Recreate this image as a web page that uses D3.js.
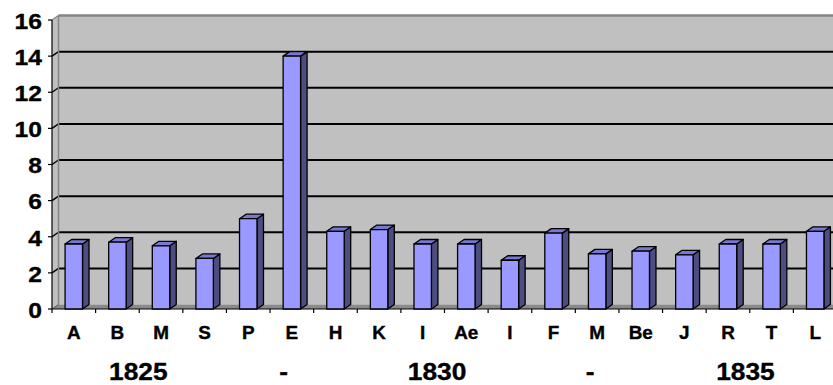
<!DOCTYPE html>
<html>
<head>
<meta charset="utf-8">
<script src="https://cdn.jsdelivr.net/npm/d3@7"></script>
<style>
  html, body { margin: 0; padding: 0; background: #ffffff; }
  svg { display: block; }
  text { font-family: "Liberation Sans", Arial, sans-serif; font-weight: bold; fill: #000; stroke: #000; stroke-width: 0.35px; }
</style>
</head>
<body>
<svg id="chart" width="833" height="385"></svg>
<script>
// Category labels along the x axis
const categories = ["A", "B", "M", "S", "P", "E", "H", "K", "I", "Ae", "I", "F", "M", "Be", "J", "R", "T", "L"];
// Column heights
const values = [3.6, 3.7, 3.5, 2.8, 5.0, 14.0, 4.3, 4.4, 3.6, 3.6, 2.7, 4.2, 3.05, 3.2, 3.0, 3.6, 3.6, 4.3];
// Y axis ticks
const yTicks = [0, 2, 4, 6, 8, 10, 12, 14, 16];
// Second row of axis labels and where they sit, in category units
const yearLabels = ["1825", "-", "1830", "-", "1835"];
const yearAt = [1.98, 5.31, 8.83, 12.34, 15.9];

const svg = d3.select("#chart");

// Layout of the front plane and the depth offset of the 3D box
const plotLeft = 52, plotRight = 837, plotTop = 20, plotBase = 309;
const dx = 6.5, dy = -4.5;

const x = d3.scaleBand().domain(d3.range(categories.length)).range([plotLeft, plotRight]).padding(0);
const y = d3.scaleLinear().domain([0, 16]).range([plotBase, plotTop]);
const xPos = d3.scaleLinear().domain([0, categories.length]).range([plotLeft, plotRight]);

const wallFill = "#c0c0c0", floorFill = "#8a8a8a", wallEdge = "#858585";

// Back wall
svg.append("rect")
  .attr("x", plotLeft + dx).attr("y", plotTop + dy)
  .attr("width", 900).attr("height", plotBase - plotTop)
  .attr("fill", wallFill);

// Left side wall
svg.append("polygon")
  .attr("points", [[plotLeft, plotTop], [plotLeft + dx, plotTop + dy], [plotLeft + dx, plotBase + dy], [plotLeft, plotBase]].join(" "))
  .attr("fill", wallFill);

// Gridlines on the back wall and across the side wall
const grid = svg.append("g");
yTicks.filter(v => v > 0 && v < 16).forEach(v => {
  grid.append("line")
    .attr("x1", plotLeft + dx).attr("x2", 900)
    .attr("y1", y(v) + dy).attr("y2", y(v) + dy)
    .attr("stroke", "#000").attr("stroke-width", 2);
  grid.append("line")
    .attr("x1", plotLeft).attr("x2", plotLeft + dx)
    .attr("y1", y(v)).attr("y2", y(v) + dy)
    .attr("stroke", "#000").attr("stroke-width", 1.5);
});

// Wall edges
svg.append("line")
  .attr("x1", plotLeft + dx).attr("x2", 900)
  .attr("y1", plotTop + dy).attr("y2", plotTop + dy)
  .attr("stroke", wallEdge).attr("stroke-width", 2.5);
svg.append("line")
  .attr("x1", plotLeft + dx).attr("x2", plotLeft + dx)
  .attr("y1", plotTop + dy).attr("y2", plotBase + dy)
  .attr("stroke", wallEdge).attr("stroke-width", 1.5);
svg.append("line")
  .attr("x1", plotLeft).attr("x2", plotLeft + dx)
  .attr("y1", plotTop).attr("y2", plotTop + dy)
  .attr("stroke", wallEdge).attr("stroke-width", 1.5);

// Floor
svg.append("polygon")
  .attr("points", [[plotLeft, plotBase], [plotLeft + dx, plotBase + dy], [900, plotBase + dy], [900, plotBase]].join(" "))
  .attr("fill", floorFill);
svg.append("line")
  .attr("x1", plotLeft).attr("x2", plotLeft + dx)
  .attr("y1", plotBase).attr("y2", plotBase + dy)
  .attr("stroke", "#555").attr("stroke-width", 1);

// Y axis
const yAxis = svg.append("g");
yAxis.append("line")
  .attr("x1", plotLeft).attr("x2", plotLeft)
  .attr("y1", plotTop).attr("y2", plotBase)
  .attr("stroke", "#000").attr("stroke-width", 1.2);
yAxis.selectAll("line.tick").data(yTicks).join("line")
  .attr("class", "tick")
  .attr("x1", plotLeft - 4).attr("x2", plotLeft)
  .attr("y1", d => y(d)).attr("y2", d => y(d))
  .attr("stroke", "#000").attr("stroke-width", 1.2);
yAxis.selectAll("text").data(yTicks).join("text")
  .attr("text-anchor", "end")
  .attr("font-size", 22)
  .attr("transform", d => `translate(42,${y(d) + 8.8}) scale(1.12,1)`)
  .text(d => d);

// X axis
const xAxis = svg.append("g");
xAxis.append("line")
  .attr("x1", plotLeft).attr("x2", plotRight)
  .attr("y1", plotBase).attr("y2", plotBase)
  .attr("stroke", "#000").attr("stroke-width", 1.2);
xAxis.selectAll("line.tick").data(d3.range(categories.length + 1)).join("line")
  .attr("class", "tick")
  .attr("x1", d => xPos(d)).attr("x2", d => xPos(d))
  .attr("y1", plotBase).attr("y2", plotBase + 4)
  .attr("stroke", "#000").attr("stroke-width", 1.2);
xAxis.selectAll("text.cat").data(categories).join("text")
  .attr("class", "cat")
  .attr("text-anchor", "middle")
  .attr("font-size", 17.5)
  .attr("transform", (d, i) => `translate(${x(i) + x.bandwidth() / 2},338.5) scale(1.08,1)`)
  .text(d => d);
xAxis.selectAll("text.year").data(yearLabels).join("text")
  .attr("class", "year")
  .attr("text-anchor", "middle")
  .attr("font-size", 23.5)
  .attr("transform", (d, i) => `translate(${xPos(yearAt[i])},380) scale(1.12,1)`)
  .text(d => d);

// 3D columns: side, top, then front face
const barW = x.bandwidth() * 0.4;
const bars = svg.append("g")
  .attr("stroke", "#000").attr("stroke-width", 1.3).attr("stroke-linejoin", "round");
values.forEach((v, i) => {
  const x0 = x(i) + (x.bandwidth() - barW) / 2, x1 = x0 + barW, yt = y(v);
  bars.append("polygon")
    .attr("points", [[x1, yt], [x1 + dx, yt + dy], [x1 + dx, plotBase + dy], [x1, plotBase]].join(" "))
    .attr("fill", "#4d4d80");
  bars.append("polygon")
    .attr("points", [[x0, yt], [x0 + dx, yt + dy], [x1 + dx, yt + dy], [x1, yt]].join(" "))
    .attr("fill", "#7878d2");
  bars.append("rect")
    .attr("x", x0).attr("y", yt)
    .attr("width", barW).attr("height", plotBase - yt)
    .attr("fill", "#9999ff");
});
</script>
</body>
</html>
